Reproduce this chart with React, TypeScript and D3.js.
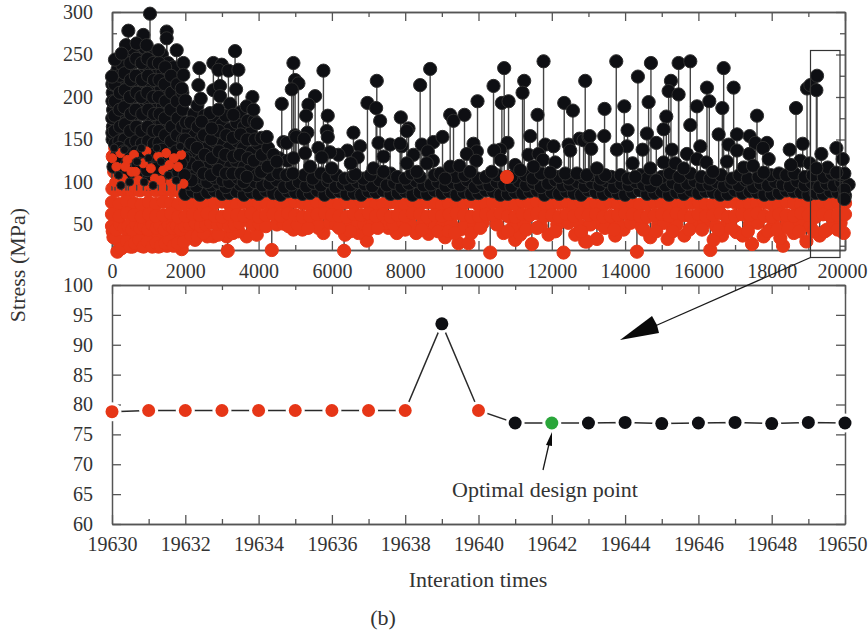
import React, { useEffect, useRef } from "react";
import * as d3 from "d3";

// tall black peaks: [iteration, stress]
const blackPeaks = [
  [1037,298],[446,278],[1492,277],[1492,269],[382,261],[855,273],[673,263],[946,261],[1265,255],[1765,255],[3358,254],[82,244],[264,251],[1947,240],[2384,234],[2766,240],[2994,238],[2903,232],[3176,231],[3449,232],[1947,226],[0,224],[2357,214],[2766,208],[2948,213],[3385,209],[3831,200],[2421,198],[1902,210],[2000,196],[4632,192],[4950,240],[4996,220],[5087,216],[4905,209],[2948,201],[3221,192],[3677,189],[3858,185],[3950,169],[4222,153],[4677,147],[4768,146],[4996,155],[4404,132],[4495,124],[2675,181],[2448,171],[2903,185],[3312,179],[2720,163],
  [5769,231],[5542,201],[5360,191],[5296,178],[5887,178],[5860,160],[5887,153],[5332,158],[5023,153],[5241,151],[6588,158],[6770,142],[6424,137],[5632,140],[5268,134],[6179,132],[5951,135],[5724,129],[6706,129],[6634,109],[6515,122],[5996,116],[5405,118],[7225,219],[6970,193],[7207,187],[7316,172],[7271,146],[7589,144],[7908,142],[7862,145],[7880,176],[8090,163],[8044,160],[8408,214],[8681,233],[8454,144],[8772,147],[9018,153],[8618,136],[8226,132],[8754,125],[9227,179],[9318,172],[9618,179],[9973,195],[9864,145],[9955,136],[9682,133],[9937,125],[9227,118],[9482,119],[9773,112],[10410,213],[10638,193],[10701,234],[10820,195],[10792,146],[10592,138],[10428,137],[10610,126],[10364,112],[11001,120],[11138,114],[11247,219],[11202,205],[11611,179],[11411,154],[11775,242],[11821,144],[12048,142],[11365,132],[11639,133],[11757,126],[11502,118],[12094,123],[12339,193],[12576,184],[12458,144],[12503,137],[12912,219],[12757,151],[12867,149],[13003,153],[12366,110],[12685,110],[12958,108],[11957,111],[7134,116],[7407,130],[7407,112],[8044,122],[8317,112],[8590,122],[9090,104],
  [13759,242],[14350,224],[14705,240],[15251,219],[15460,240],[15779,242],[15188,207],[15460,203],[14642,194],[13440,186],[13977,189],[15961,189],[16234,211],[16298,195],[16653,187],[16689,234],[16962,211],[17599,178],[15124,177],[15779,167],[15051,162],[14068,161],[13431,154],[13031,154],[14596,157],[16553,156],[17053,156],[17399,154],[14851,146],[14050,142],[13777,138],[13076,139],[14478,138],[15279,138],[16052,142],[15688,133],[16826,144],[17053,137],[17554,146],[17872,146],[17763,140],[17390,133],[17918,127],[18664,187],[18491,138],[18846,145],[18964,210],[19055,214],[19237,225],[19219,208],[19765,140],[19355,133],[19938,127],[19983,110],[19529,117],[19765,111],[18782,125],[18527,120],[19037,122],[19219,116],[14205,122],[15051,123],[15370,122],[15597,116],[15961,127],[16216,123],[16398,112],[16780,124],[17235,117],[17490,119],[17781,111],[13459,108],[13231,116],[14687,116],[14278,106],[14851,102],[19983,91],[19983,80],
];

// the solid dark mass in the first 5000 iterations
const blackMass = [
  [20,205],[30,185],[25,165],[15,150],[40,225],[150,232],[130,212],[170,192],[120,172],[160,152],[280,238],[300,218],[260,198],[310,178],[270,158],[420,250],[440,230],[400,210],[450,190],[410,170],[430,150],[580,256],[560,240],[600,220],[570,200],[610,180],[560,160],[590,145],[740,262],[720,245],[760,225],[730,205],[750,185],[710,165],[760,148],[890,258],[910,240],[870,220],[920,200],[880,180],[900,160],[870,145],[1060,252],[1040,235],[1090,215],[1030,195],[1070,175],[1050,155],[1210,244],[1190,225],[1230,205],[1180,185],[1220,165],[1200,148],[1360,250],[1380,230],[1340,210],[1390,190],[1350,170],[1370,150],[1530,240],[1510,220],[1560,200],[1500,180],[1540,160],[1520,145],[1680,235],[1700,215],[1660,195],[1720,175],[1670,155],[1840,200],[1860,182],[1820,165],[1880,148],
  [10,215],[12,195],[8,175],[10,158],[70,215],[80,195],[65,178],[75,160],[80,145],[210,225],[215,205],[205,185],[220,165],[200,148],[340,228],[350,208],[335,188],[355,168],[340,150],[500,240],[510,220],[490,200],[515,180],[495,160],[505,145],[660,245],[650,225],[670,205],[645,185],[665,165],[660,148],[810,240],[820,220],[800,200],[825,180],[805,160],[815,145],[970,245],[985,225],[965,205],[990,185],[975,165],[985,148],[1130,240],[1145,220],[1125,200],[1150,180],[1130,160],[1140,145],[1280,240],[1295,220],[1275,200],[1300,180],[1285,160],[1290,146],[1450,235],[1435,215],[1460,195],[1440,175],[1450,155],[1610,225],[1620,205],[1600,185],[1625,165],[1610,148],[1780,215],[1770,195],[1790,175],[1775,155],[1920,205],[1930,185],[1915,165],[1940,150],
  [2080,160],[2070,135],[2100,115],[2230,180],[2260,155],[2210,130],[2250,108],[2430,150],[2400,125],[2440,105],[2620,165],[2590,140],[2630,118],[2600,100],[2820,172],[2790,148],[2830,125],[2800,105],[3000,168],[3030,145],[2990,122],[3020,102],[3210,162],[3190,140],[3230,118],[3200,100],[3400,170],[3420,148],[3390,125],[3430,105],[3600,165],[3580,140],[3610,118],[3590,100],[3790,158],[3820,135],[3770,115],[3980,145],[4010,125],[3960,108],[4180,130],[4150,112],[4350,125],[4330,108],[4560,128],[4540,110],[4790,125],[4760,108],[4950,128],[4930,110],
  [2020,170],[2000,150],[2030,128],[2150,170],[2160,145],[2140,122],[2170,102],[2330,190],[2340,165],[2320,140],[2350,118],[2520,178],[2510,155],[2530,132],[2500,110],[2710,150],[2720,128],[2700,108],[2910,160],[2920,136],[2900,114],[3100,178],[3120,155],[3090,132],[3110,110],[3300,152],[3310,130],[3290,110],[3500,182],[3510,156],[3490,132],[3520,110],[3700,172],[3690,150],[3710,128],[3680,106],[3880,172],[3900,150],[3870,125],[4080,152],[4090,132],[4070,112],[4260,140],[4250,118],
  [40,118],[150,132],[250,110],[380,128],[520,112],[640,135],[780,105],[900,125],[1010,108],[1150,130],[1290,112],[1430,128],[1570,106],[1690,122],[1810,112],[1950,128],
  [95,128],[200,140],[320,136],[450,112],[580,128],[710,120],[840,136],[960,114],[1080,132],[1220,116],[1360,138],[1500,118],[1630,132],[1750,136],[1880,122],[1980,108],
];

// red excursions showing through the dark mass, 0-2000
const redTall = [
  [20,130],[60,112],[90,140],[130,96],[170,124],[210,108],[260,140],[300,118],[350,100],[400,132],[450,146],[490,110],[540,126],[590,96],[640,138],[690,114],[740,146],[790,102],[840,126],[890,142],[940,108],[990,124],[1040,96],[1090,136],[1140,112],[1190,140],[1240,100],[1290,124],[1340,146],[1390,108],[1440,130],[1490,96],[1540,140],[1590,116],[1640,134],[1690,100],[1740,124],[1790,110],[1840,132],[1890,104],[1930,118],
  [10,92],[110,90],[220,94],[330,90],[430,92],[540,90],[650,94],[760,90],[870,92],[980,90],[1090,94],[1200,90],[1310,92],[1420,90],[1530,94],[1640,90],[1750,92],[1860,88],
];

// red and black that sit on top of the mass between stress 95 and 145
const redOver = [
  [5,128],[120,118],[230,134],[300,104],[420,126],[530,112],[600,132],[720,102],[850,122],[940,136],[1060,116],[1170,104],[1260,130],[1400,114],[1480,134],[1600,100],[1690,128],[1800,118],[1890,132],[1950,98],
  [60,100],[360,118],[640,112],[1000,96],[1330,102],[1560,120],
];
const blackOver = [
  [60,140],[180,108],[340,138],[480,100],[680,124],[800,140],[1000,128],[1120,96],[1220,140],[1340,124],[1540,108],[1750,102],[1860,142],[240,96],[880,100],
];

// dark band along the top of the red, one value per 200 iterations from 2000
const blackBandLow = [
  86,89,85,88,90,86,87,89,85,88,86,90,87,85,89,88,86,87,90,85,88,89,86,87,85,89,88,90,86,87,89,85,88,86,90,87,89,85,88,86,87,90,89,85,86,88,87,89,90,85,88,86,89,87,85,90,88,86,89,87,85,88,90,86,87,89,85,88,86,90,87,89,88,85,86,90,87,89,88,85,86,87,90,89,88,85,87,86,89,88,84,
];
const blackBandHigh = [
  98,95,101,96,99,94,102,97,95,100,96,98,102,94,97,100,95,99,96,101,94,98,96,100,97,95,102,96,99,94,98,101,96,97,100,95,99,96,102,94,98,96,100,97,95,101,96,99,94,98,102,96,97,100,95,99,96,101,94,98,96,100,97,95,102,96,99,94,98,101,96,97,100,95,99,96,102,94,98,96,100,97,95,101,96,99,94,98,96,100,97,
];
const blackBandTop = [
  [5250,108],[5480,104],[5700,110],[5900,106],[6130,108],[6350,104],[6560,106],[6860,104],[7050,108],[7600,110],[7780,106],[8000,104],[8180,110],[8400,106],[8800,108],[8960,110],[9380,106],[9620,108],[9990,104],[10200,106],[10500,108],[10900,106],[11280,108],[11480,104],[11700,110],[12200,106],[12460,104],[12860,106],[13120,108],[13340,104],[13620,106],[13880,108],[14080,104],[14420,108],[14600,104],[15000,106],[15220,110],[15480,106],[15780,110],[16080,106],[16320,104],[16620,108],[16920,104],[17120,108],[17350,104],[17640,106],[17980,108],[18200,110],[18400,108],[18620,110],[18900,106],[19120,108],[19420,106],[19640,110],[19880,108],
];

// red band, one value per 200 iterations from 0
const redBandTop = [
  76,74,77,75,73,76,74,77,75,73,75,74,76,73,75,77,74,73,76,75,74,76,73,75,74,77,75,73,76,74,75,73,76,74,77,75,73,74,76,75,73,77,74,76,75,73,74,76,75,77,73,74,76,75,73,74,77,75,76,73,74,75,77,73,76,74,75,73,76,74,77,75,73,74,76,75,73,77,74,75,76,73,74,75,77,76,73,74,75,76,74,73,77,75,74,76,73,75,74,76,75,
];
const redBandMid = [
  62,60,63,61,59,62,60,61,63,59,60,62,61,63,60,59,62,61,60,63,59,61,62,60,63,61,59,60,62,63,61,60,59,62,61,63,60,62,59,61,60,63,62,59,61,60,62,63,61,59,60,62,61,63,60,59,62,61,63,60,61,59,62,60,63,61,62,59,60,61,63,62,60,59,61,62,60,63,61,59,62,60,61,63,59,60,62,61,63,60,59,62,61,60,63,61,59,62,60,61,62,
];
const redBandLow = [
  [0,48],[110,44],[220,50],[330,46],[440,48],[550,44],[660,50],[770,46],[880,48],[990,44],[1100,50],[1210,46],[1320,48],[1430,44],[1540,50],[1650,46],[1760,48],[1870,44],[1980,48],[2120,50],[2270,52],[2420,48],[2560,50],[2700,52],[2880,50],[3020,52],[3200,48],[3340,50],[3480,52],[3820,50],[4020,51],[4200,48],[4500,50],[4680,51],[4820,48],[5060,50],[5450,52],[5620,50],[5950,52],[6110,50],[6520,50],[6700,52],[6880,50],[7120,52],[7320,50],[7480,52],[7680,50],[7950,52],[8140,50],[8480,50],[8820,50],[9000,48],[9260,50],[9620,48],[9880,50],[10120,52],[10500,50],[10950,48],[11250,50],[11700,48],[12150,50],[12450,52],[12780,48],[13050,50],[13600,48],[13820,50],[14150,52],[14450,48],[14900,50],[15060,52],[15400,50],[15900,50],[16150,52],[16480,48],[16800,52],[17400,50],[17620,52],[18050,50],[18420,52],[18780,50],[19050,48],[19700,50],[19880,52],
  [5350,46],[6500,42],[6200,46],[7000,44],[7250,46],[8000,44],[8450,44],[8900,42],[9180,42],[9350,40],[9800,40],[10050,46],[10800,42],[11300,44],[11600,46],[12100,42],[12800,42],[13450,46],[13700,44],[14500,44],[14850,42],[15300,42],[15750,44],[16100,44],[16550,44],[16900,46],[17350,42],[17900,42],[18150,44],[18450,46],[18750,42],[19150,42],[19450,42],[19800,44],
];
const redLow = [
  [146,18],[1902,21],[3158,19],[4359,20],[3130,36],[3677,36],[3950,38],[2766,36],[2266,32],[4950,44],[6333,19],[10319,17],[12321,17],[11456,27],[6952,31],[12912,30],[9454,28],[9727,28],[6360,38],[5769,40],[5632,46],[5196,44],[7771,40],[8299,40],[8635,39],[9090,35],[11001,32],[11138,38],[11911,38],[12640,38],[7544,46],[6724,40],[10683,40],[9500,44],[14323,18],[16325,20],[17463,27],[18309,25],[12958,30],[13231,33],[13731,37],[14687,35],[15160,33],[15615,37],[16644,37],[17035,41],[17208,37],[17781,36],[18236,34],[18946,30],[19310,37],[19965,40],[18600,40],[13322,51],[13959,44],[16416,32],[17963,44],[19510,44],
  [40,35],[200,30],[330,26],[450,36],[560,24],[680,34],[800,25],[920,36],[1040,26],[1150,34],[1270,24],[1390,36],[1500,25],[1620,34],[1740,26],[1850,36],[2020,34],[2400,38],[2600,36],
  [20,42],[100,34],[260,22],[400,30],[500,24],[620,28],[740,32],[860,24],[980,30],[1100,24],[1210,28],[1330,25],[1450,28],[1560,32],[1680,25],[1800,28],[1960,30],[2150,38],[2330,36],[2500,40],[2900,38],[3300,40],[3450,42],
];
const redAbove = [[10774, 106]];

// lower panel
const detailIterations = [19630,19631,19632,19633,19634,19635,19636,19637,19638,19639,19640,19641,19642,19643,19644,19645,19646,19647,19648,19649,19650];
const detailStress = [78.8,79,79,79,79,79,79,79,79,93.5,79,76.9,76.9,76.9,77,76.8,76.9,77,76.8,77,76.9];
const detailColors = ["r","r","r","r","r","r","r","r","r","k","r","k","g","k","k","k","k","k","k","k","k"];

const RED = "#e63617";
const BLACK = "#0e0f13";
const GREEN = "#2aa63a";
const AXIS = "#555555";
const TEXT = "#333333";
const FONT = "'Liberation Serif', serif";

export default function App() {
  const svgRef = useRef<SVGSVGElement | null>(null);

  useEffect(() => {
    const svg = d3.select(svgRef.current);
    svg.selectAll("*").remove();

    const left = 112, right = 845;
    const x1 = d3.scaleLinear().domain([0, 20000]).range([left, right]);
    const y1 = d3.scaleLinear().domain([20, 300]).range([250, 12]);
    const x2 = d3.scaleLinear().domain([19630, 19650]).range([left, right]);
    const y2 = d3.scaleLinear().domain([60, 100]).range([524, 285]);

    const bandBlack = [
      ...blackBandLow.map((v, i) => [2000 + i * 200, v]),
      ...blackBandHigh.map((v, i) => [2100 + i * 200, v]),
      ...blackBandTop,
    ];
    const bandRed = [
      ...redBandTop.map((v, i) => [i * 200, v]),
      ...redBandMid.map((v, i) => [i * 200, v]),
    ];

    // axes go under the points
    const fmt = d3.format("d");
    const styleAxis = (g: any) => {
      g.select(".domain").attr("stroke", AXIS).attr("stroke-width", 1.5);
      g.selectAll(".tick line").attr("stroke", AXIS).attr("stroke-width", 1.3);
      g.selectAll("text").attr("font-family", FONT).attr("font-size", 20).attr("fill", TEXT);
    };
    const frame = (x: any, y: any, xMajor: number[], xMinor: number[], yMajor: number[], yMinor: number[], pad: number) => {
      const top = y.range()[1], bottom = y.range()[0];
      const add = (axis: any, tx: number, ty: number) => {
        const g = svg.append("g").attr("transform", `translate(${tx},${ty})`).call(axis);
        styleAxis(g);
        return g;
      };
      const xb = add(d3.axisBottom(x).tickValues(xMajor).tickSizeInner(-9).tickSizeOuter(0).tickPadding(pad).tickFormat((d: any) => fmt(d)), 0, bottom);
      xb.selectAll("text").filter((d: any) => d === x.domain()[1]).attr("dx", -3);
      add(d3.axisBottom(x).tickValues(xMinor).tickSizeInner(-5).tickSizeOuter(0).tickFormat(() => ""), 0, bottom);
      add(d3.axisTop(x).tickValues(xMajor).tickSizeInner(-9).tickSizeOuter(0).tickFormat(() => ""), 0, top);
      add(d3.axisTop(x).tickValues(xMinor).tickSizeInner(-5).tickSizeOuter(0).tickFormat(() => ""), 0, top);
      add(d3.axisLeft(y).tickValues(yMajor).tickSizeInner(-9).tickSizeOuter(0).tickPadding(19).tickFormat((d: any) => fmt(d)), left, 0);
      add(d3.axisRight(y).tickValues(yMajor).tickSizeInner(-9).tickSizeOuter(0).tickFormat(() => ""), right, 0);
      if (yMinor.length) {
        add(d3.axisLeft(y).tickValues(yMinor).tickSizeInner(-5).tickSizeOuter(0).tickFormat(() => ""), left, 0);
        add(d3.axisRight(y).tickValues(yMinor).tickSizeInner(-5).tickSizeOuter(0).tickFormat(() => ""), right, 0);
      }
    };
    frame(x1, y1, d3.range(0, 20001, 2000), d3.range(1000, 20000, 2000), [50, 100, 150, 200, 250, 300], [25, 75, 125, 175, 225, 275], 14);
    frame(x2, y2, d3.range(19630, 19651, 2), d3.range(19631, 19650, 2), d3.range(60, 101, 5), [], 13);

    const dots = (pts: number[][], color: string, stroke: string, r = 6.6) =>
      svg.append("g").selectAll("circle").data(pts).join("circle")
        .attr("cx", (d) => x1(d[0]))
        .attr("cy", (d) => y1(d[1]))
        .attr("r", r)
        .attr("fill", color)
        .attr("stroke", stroke)
        .attr("stroke-width", 1);

    // stems of the low red points and of the black peaks
    svg.append("g").selectAll("line").data(redLow.filter((d) => d[0] > 2000)).join("line")
      .attr("x1", (d) => x1(d[0])).attr("x2", (d) => x1(d[0]))
      .attr("y1", (d) => y1(d[1])).attr("y2", y1(80))
      .attr("stroke", "#444").attr("stroke-width", 1.4);
    dots(redTall, RED, RED);
    dots(redLow, RED, RED);
    dots(redBandLow, RED, RED);
    dots(bandRed, RED, RED);
    svg.append("g").selectAll("line").data(blackPeaks).join("line")
      .attr("x1", (d) => x1(d[0])).attr("x2", (d) => x1(d[0]))
      .attr("y1", (d) => y1(d[1])).attr("y2", y1(90))
      .attr("stroke", "#444").attr("stroke-width", 1.4);
    dots(bandBlack, BLACK, "#2e2e2e");
    dots(blackMass, BLACK, "#2e2e2e");
    dots(blackPeaks, BLACK, "#2e2e2e");
    dots(redOver, RED, RED, 4.5);
    dots(blackOver, BLACK, "#2e2e2e", 4);
    dots(redAbove, RED, RED);

    // lower panel line and points
    const line = d3.line<number>().x((_, i) => x2(detailIterations[i])).y((d) => y2(d));
    svg.append("path").attr("d", line(detailStress)).attr("fill", "none").attr("stroke", "#2a2a2a").attr("stroke-width", 1.5);
    const colorOf: Record<string, string> = { r: RED, k: BLACK, g: GREEN };
    svg.append("g").selectAll("circle").data(detailStress).join("circle")
      .attr("cx", (_, i) => x2(detailIterations[i])).attr("cy", (d) => y2(d))
      .attr("r", 9.5).attr("fill", "#fff");
    svg.append("g").selectAll("circle").data(detailStress).join("circle")
      .attr("cx", (_, i) => x2(detailIterations[i])).attr("cy", (d) => y2(d))
      .attr("r", 6.5).attr("fill", (_, i) => colorOf[detailColors[i]]);

    // zoom box and arrows
    svg.append("rect").attr("x", 810.5).attr("y", 50.5).attr("width", 29.5).attr("height", 207)
      .attr("fill", "none").attr("stroke", "#333").attr("stroke-width", 1.2);
    svg.append("line").attr("x1", 810.5).attr("y1", 257.5).attr("x2", 655).attr("y2", 326)
      .attr("stroke", "#1a1a1a").attr("stroke-width", 1.3);
    svg.append("path").attr("d", "M620,340 L652,316 L657,325 L659,333 Z").attr("fill", "#0a0a0a");
    svg.append("line").attr("x1", 543).attr("y1", 470).attr("x2", 549).attr("y2", 444)
      .attr("stroke", "#1a1a1a").attr("stroke-width", 1.3);
    svg.append("path").attr("d", "M552,432 L546,445 L552,446 Z").attr("fill", "#0a0a0a");

    // text
    const label = (txt: string, x: number, y: number, size: number, rotate = false) =>
      svg.append("text").text(txt)
        .attr("x", x).attr("y", y)
        .attr("transform", rotate ? `rotate(-90 ${x} ${y})` : null)
        .attr("text-anchor", "middle")
        .attr("font-family", FONT).attr("font-size", size).attr("fill", TEXT);
    label("Stress (MPa)", 25, 265, 22, true);
    label("Interation times", 478, 587, 22);
    label("Optimal design point", 545, 497, 22);
    label("(b)", 383, 625, 22);
  }, []);

  return (
    <svg
      ref={svgRef}
      width={868}
      height={633}
      style={{ position: "absolute", left: 0, top: 0, background: "#fff" }}
    />
  );
}
